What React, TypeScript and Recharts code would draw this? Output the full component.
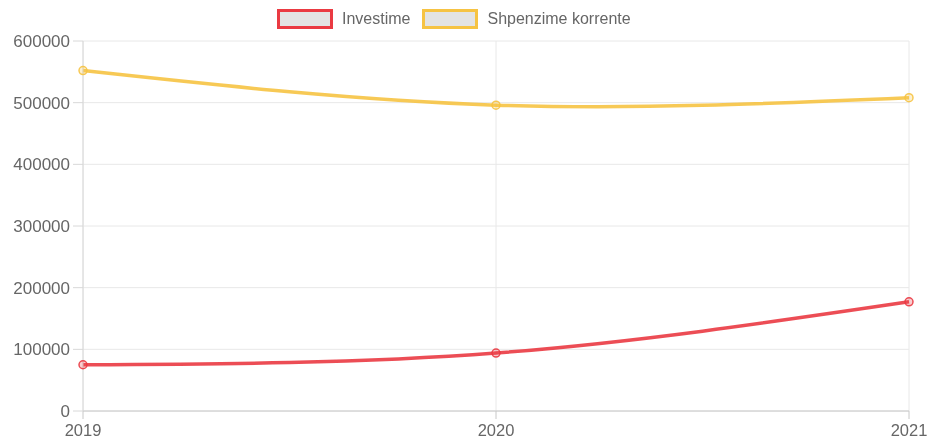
import { CartesianGrid, Line, LineChart, XAxis, YAxis } from 'recharts'

const years = ['2019', '2020', '2021']
const investime = [75000, 94000, 177000]
const shpenzime = [552000, 496000, 508000]
const yTicks = [0, 100000, 200000, 300000, 400000, 500000, 600000]

const RED = '#ea3a42'
const YELLOW = '#f6c343'

const data = years.map((year, i) => ({
  year,
  investime: investime[i],
  shpenzime: shpenzime[i]
}))

const series = [
  { key: 'investime', name: 'Investime', color: RED },
  { key: 'shpenzime', name: 'Shpenzime korrente', color: YELLOW }
]

const font = '"Liberation Sans", Arial, sans-serif'

const LegendBar = () => (
  <div
    style={{
      position: 'absolute',
      top: 9,
      left: 277,
      display: 'flex',
      alignItems: 'center',
      fontFamily: font,
      fontSize: 16,
      color: '#666'
    }}
  >
    {series.map((s) => (
      <div key={s.key} style={{ display: 'flex', alignItems: 'center', marginRight: 12 }}>
        <span
          style={{
            display: 'inline-block',
            width: 50,
            height: 14,
            background: '#e3e3e3',
            border: `3px solid ${s.color}`,
            marginRight: 9
          }}
        />
        <span>{s.name}</span>
      </div>
    ))}
  </div>
)

const App = () => {
  return (
    <div style={{ position: 'fixed', top: 0, left: 0, width: 930, height: 440 }}>
      <LegendBar />
      <LineChart
        width={930}
        height={440}
        data={data}
        margin={{ top: 41, right: 21, left: 18, bottom: 0 }}
      >
        <CartesianGrid stroke="#e8e8e8" strokeWidth={1} />
        <XAxis
          dataKey="year"
          height={29}
          tick={{ fill: '#666', fontSize: 16.5, fontFamily: font }}
          tickSize={8}
          tickMargin={5}
          stroke="#c8c8c8"
          interval={0}
        />
        <YAxis
          width={65}
          domain={[0, 600000]}
          ticks={yTicks}
          tick={{ fill: '#666', fontSize: 17, fontFamily: font }}
          tickSize={10}
          tickMargin={3}
          stroke="#d8d8d8"
        />
        {series.map((s) => (
          <Line
            key={s.key}
            dataKey={s.key}
            name={s.name}
            type="natural"
            stroke={s.color}
            strokeWidth={3.5}
            strokeOpacity={0.9}
            dot={{ r: 4, fill: s.color, fillOpacity: 0.25, stroke: s.color, strokeWidth: 1.5 }}
            isAnimationActive={false}
          />
        ))}
      </LineChart>
    </div>
  )
}

export default App
